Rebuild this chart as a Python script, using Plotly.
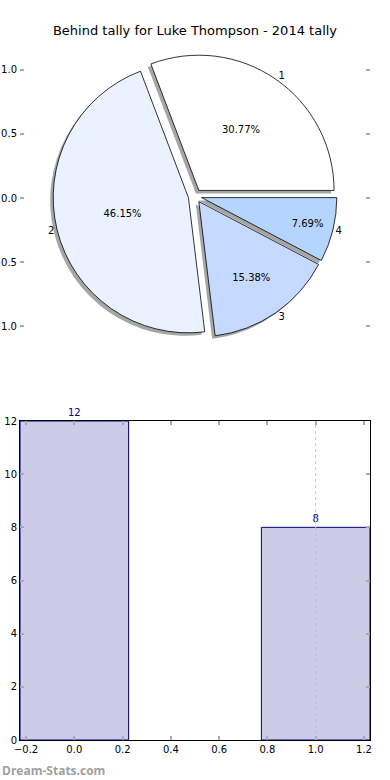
import plotly.graph_objects as go

# ---- data ----
title_text = "Behind tally for Luke Thompson - 2014 tally"
pie_labels = ["1", "2", "3", "4"]
pie_values = [4, 6, 2, 1]
pie_colors = ["#FFFFFF", "#EAF1FF", "#C6D9FF", "#B3D5FF"]

bar_x = [0, 1]
bar_values = [12, 8]
bar_text = ["12", "8"]

pie_yticks = [-1.0, -0.5, 0.0, 0.5, 1.0]
bar_xticks = [-0.2, 0.0, 0.2, 0.4, 0.6, 0.8, 1.0, 1.2]
bar_yticks = [0, 2, 4, 6, 8, 10, 12]

W, H = 390, 780
FONT = "DejaVu Sans"

# first slice starts at 3 o'clock going counter-clockwise (matplotlib default)
rot = 90 - 360 * pie_values[0] / sum(pie_values)

# pie geometry (pixels -> paper)
cx, cy, half = 195, 196, 142
pie_dom_x = [(cx - half) / W, (cx + half) / W]
pie_dom_y = [1 - (cy + half) / H, 1 - (cy - half) / H]
sdx, sdy = 3 / W, 3 / H
pull = [0.05] * 4

fig = go.Figure()

# shadow
fig.add_trace(go.Pie(
    labels=pie_labels, values=pie_values, sort=False, direction="counterclockwise",
    rotation=rot, pull=pull, textinfo="none", hoverinfo="skip", showlegend=False,
    marker=dict(colors=["rgba(77,77,77,0.5)"] * 4, line=dict(width=0)),
    domain=dict(x=[pie_dom_x[0] - sdx, pie_dom_x[1] - sdx],
                y=[pie_dom_y[0] - sdy, pie_dom_y[1] - sdy]),
))
# main pie with percentages
fig.add_trace(go.Pie(
    labels=pie_labels, values=pie_values, sort=False, direction="counterclockwise",
    rotation=rot, pull=pull, texttemplate="%{percent:.2%}", textposition="inside",
    insidetextorientation="horizontal", showlegend=False,
    insidetextfont=dict(family=FONT, size=10, color="black"),
    marker=dict(colors=pie_colors, line=dict(color="black", width=0.8)),
    domain=dict(x=pie_dom_x, y=pie_dom_y),
))
# outside labels
fig.add_trace(go.Pie(
    labels=pie_labels, values=pie_values, sort=False, direction="counterclockwise",
    rotation=rot, pull=pull, textinfo="label", textposition="outside", hoverinfo="skip",
    showlegend=False, outsidetextfont=dict(family=FONT, size=10, color="black"),
    marker=dict(colors=["rgba(0,0,0,0)"] * 4, line=dict(width=0)),
    domain=dict(x=pie_dom_x, y=pie_dom_y),
))

# invisible trace to carry the pie axes ticks
fig.add_trace(go.Scatter(x=[0], y=[0], mode="markers", marker=dict(opacity=0),
                         hoverinfo="skip", showlegend=False, xaxis="x", yaxis="y"))

# bars
fig.add_trace(go.Bar(
    x=bar_x, y=bar_values, width=0.45, text=bar_text, textposition="outside",
    cliponaxis=False, showlegend=False, hoverinfo="skip",
    textfont=dict(family=FONT, size=10, color="#000080"),
    marker=dict(color="rgba(0,0,128,0.2)", line=dict(color="#000080", width=1)),
    xaxis="x2", yaxis="y2",
))

ax_dom_x = [20 / W, 370 / W]
tickstyle = dict(ticks="inside", ticklen=4, tickwidth=1.5, tickcolor="#aaaaaa",
                 tickfont=dict(family=FONT, size=10, color="black"), automargin=False)

fig.update_layout(
    width=W, height=H, template="none",
    margin=dict(l=0, r=0, t=0, b=0),
    paper_bgcolor="white", plot_bgcolor="rgba(0,0,0,0)",
    title=dict(text=title_text, x=0.5, xanchor="center", y=1 - 30 / H, yanchor="middle",
               font=dict(family=FONT, size=13, color="black")),
    xaxis=dict(domain=ax_dom_x, range=[-1.1, 1.1], visible=False, anchor="y"),
    yaxis=dict(domain=[1 - 339 / H, 1 - 57 / H], range=[-1.1, 1.1], anchor="x",
               tickvals=pie_yticks, tickformat=".1f", showgrid=False, zeroline=False,
               showline=True, linecolor="rgba(0,0,0,0)", mirror="ticks", **tickstyle),
    xaxis2=dict(domain=ax_dom_x, range=[-0.225, 1.225], anchor="y2",
                tickvals=bar_xticks, tickformat=".1f", showgrid=False, zeroline=False,
                showline=True, linecolor="black", linewidth=1, mirror="ticks", **tickstyle),
    yaxis2=dict(domain=[1 - 740 / H, 1 - 421 / H], range=[0, 12], anchor="x2",
                tickvals=bar_yticks, showgrid=False, zeroline=False,
                showline=True, linecolor="black", linewidth=1, mirror="ticks", **tickstyle),
    font=dict(family=FONT, size=10, color="black"),
)

fig.add_shape(type="line", xref="x2", yref="paper", x0=bar_x[1], x1=bar_x[1],
              y0=1 - 740 / H, y1=1 - 421 / H, line=dict(color="#c0c0c0", width=1, dash="dot"),
              layer="above")

fig.add_annotation(text="<b>Dream-Stats.com</b>", xref="paper", yref="paper",
                   x=0, y=1 - 770 / H, xanchor="left", yanchor="middle", showarrow=False,
                   font=dict(family="Open Sans", size=12, color="#a0a0a0"))

fig.write_html("out.html", config={"displayModeBar": False},
               post_script="document.body.style.margin='0';document.body.style.overflow='hidden';")
